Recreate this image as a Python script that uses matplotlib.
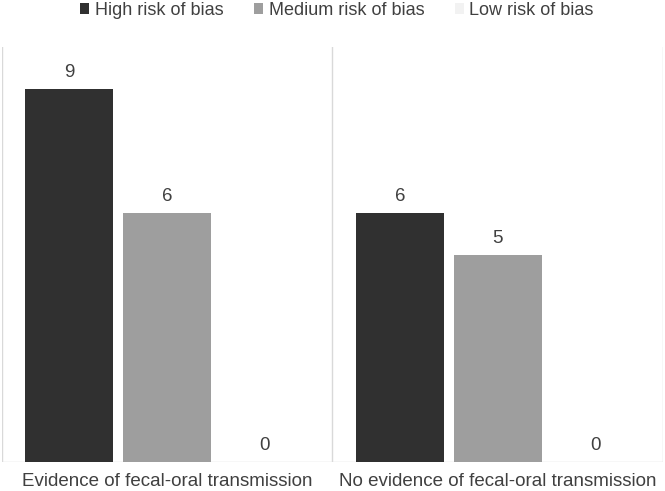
import matplotlib
matplotlib.use("Agg")
import matplotlib.pyplot as plt
import numpy as np

categories = ["Evidence of fecal-oral transmission", "No evidence of fecal-oral transmission"]
series_names = ["High risk of bias", "Medium risk of bias", "Low risk of bias"]
high = [9, 6]
medium = [6, 5]
low = [0, 0]
colors = ["#303030", "#9e9e9e", "#f2f2f2"]

plt.rcParams['font.family'] = ['Liberation Sans', 'DejaVu Sans']

fig = plt.figure(figsize=(6.65, 4.91), dpi=100)
ax = fig.add_axes([1.5/665, 1 - 462/491, (663 - 1.5)/665, (462 - 47)/491])

x = np.arange(len(categories))
width = 0.266
offsets = [-0.295, 0.0, 0.295]
for vals, off, c, name in zip([high, medium, low], offsets, colors, series_names):
    bars = ax.bar(x + off, vals, width=width, color=c, label=name, zorder=2)
    for b, v in zip(bars, vals):
        ax.annotate(str(v), (b.get_x() + b.get_width() / 2, v), xytext=(0, 5.5),
                    textcoords="offset points", ha="center", va="bottom",
                    fontsize=13.5, color="#404040")

ax.set_xlim(-0.5, 1.5)
ax.set_ylim(0, 10)
ax.set_yticks([])
ax.set_xticks(x)
ax.set_xticklabels(categories, fontsize=13.5, color="#404040")
ax.tick_params(axis='x', length=0, pad=8)
for s in ax.spines.values():
    s.set_visible(False)
ax.axhline(0, color="#d9d9d9", lw=1, zorder=1)
for xv in [-0.5, 0.5, 1.5]:
    ax.axvline(xv, color="#d9d9d9", lw=1, zorder=1)

leg = fig.legend(loc="center", bbox_to_anchor=(337/665, 1 - 10.5/491), ncol=3, frameon=False,
                 fontsize=13, handlelength=0.5, handleheight=0.5, handletextpad=0.3,
                 columnspacing=1.7, borderpad=0, borderaxespad=0)
for t in leg.get_texts():
    t.set_color("#404040")

fig.savefig("out.png", dpi=100)
